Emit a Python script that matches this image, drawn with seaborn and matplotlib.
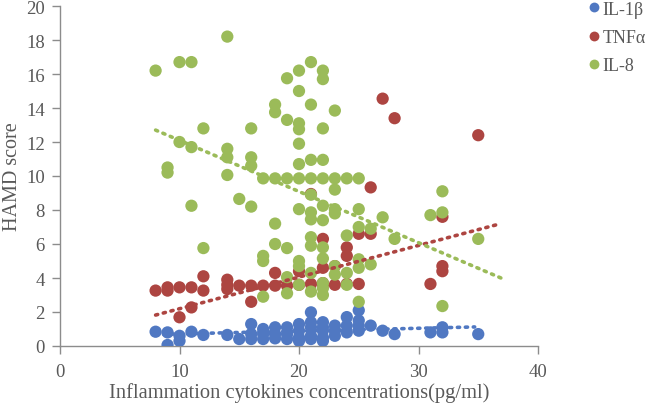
import numpy as np
import pandas as pd
import matplotlib
matplotlib.use("Agg")
import matplotlib.pyplot as plt
import seaborn as sns

# ---------------- data ----------------
series_names = ["IL-1\u03b2", "TNF\u03b1", "IL-8"]

il1b_x = [8, 9, 9, 10, 10, 11, 12, 14, 15, 16, 16, 16, 17, 17, 17, 18, 18, 18,
          19, 19, 19, 20, 20, 20, 20, 21, 21, 21, 21, 21, 22, 22, 22, 22, 22,
          23, 23, 23, 24, 24, 24, 25, 25, 25, 25, 26, 27, 28, 31, 32, 32, 35]
il1b_y = [0.84, 0.8, 0.06, 0.6, 0.3, 0.84, 0.65, 0.65, 0.41, 1.29, 0.71, 0.41,
          1.0, 0.7, 0.41, 1.1, 0.71, 0.45, 1.1, 0.7, 0.41, 1.29, 0.9, 0.5, 0.3,
          1.98, 1.4, 1.1, 0.6, 0.41, 1.4, 1.1, 0.9, 0.5, 0.3, 1.2, 0.9, 0.6,
          1.7, 1.2, 0.8, 2.1, 1.5, 1.2, 0.9, 1.2, 0.9, 0.7, 0.8, 1.1, 0.8, 0.7]

tnfa_x = [8, 9, 9, 10, 10, 11, 11, 12, 12, 14, 14, 14, 15, 16, 16, 17, 18, 18,
          19, 20, 20, 21, 21, 22, 22, 22, 22, 23, 23, 24, 24, 24, 25, 25, 26,
          26, 27, 28, 31, 32, 32, 32, 35]
tnfa_y = [3.26, 3.45, 3.26, 3.45, 1.69, 3.45, 2.27, 4.1, 3.26, 3.9, 3.6, 3.35,
          3.55, 3.55, 2.6, 3.55, 4.3, 3.55, 3.55, 3.6, 4.4, 3.65, 8.94, 3.7,
          4.6, 6.3, 3.6, 4.7, 3.6, 3.65, 5.3, 5.8, 3.65, 6.6, 6.6, 9.33, 14.55,
          13.4, 3.65, 4.4, 4.7, 7.6, 12.4]

il8_x = [8, 9, 9, 10, 10, 11, 11, 11, 12, 12, 14, 14, 14, 14, 15, 16, 16, 16,
         16, 17, 17, 17, 17, 18, 18, 18, 18, 18, 19, 19, 19, 19, 19, 19,
         20, 20, 20, 20, 20, 20, 20, 20, 20, 20, 20,
         21, 21, 21, 21, 21, 21, 21, 21, 21, 21, 21,
         22, 22, 22, 22, 22, 22, 22, 22, 22, 22, 22, 22,
         23, 23, 23, 23, 23, 23, 23, 24, 24, 24, 24, 25, 25, 25, 25, 25, 25,
         26, 26, 27, 28, 31, 32, 32, 32, 35]
il8_y = [16.2, 10.5, 10.2, 16.7, 12.0, 16.7, 11.7, 8.25, 12.8, 5.76, 18.2, 11.6,
         11.1, 10.06, 8.65, 12.8, 11.1, 10.6, 8.2, 9.86, 5.3, 5.0, 2.9, 14.2,
         13.75, 9.86, 7.2, 6.0, 15.75, 13.3, 9.86, 5.76, 4.05, 3.1,
         16.2, 15.0, 13.1, 12.75, 11.9, 10.7, 9.86, 8.05, 5.0, 4.7, 3.6,
         16.7, 14.2, 10.95, 9.86, 7.86, 7.45, 6.4, 5.9, 4.3, 3.2, 8.9,
         16.2, 15.7, 12.8, 10.95, 9.86, 8.25, 7.4, 5.8, 5.15, 3.4, 3.0, 3.7,
         13.85, 9.86, 9.2, 8.05, 7.8, 4.7, 4.2, 9.86, 6.5, 4.3, 3.6,
         9.86, 8.05, 7.0, 5.1, 4.6, 2.6, 6.9, 4.8, 7.57, 6.3, 7.7, 9.1, 7.86,
         2.35, 6.3]

# dotted linear trend lines (end points)
trend_x = {"IL-1\u03b2": [8, 34.7], "TNF\u03b1": [8, 36.9], "IL-8": [8, 36.9]}
trend_y = {"IL-1\u03b2": [0.68, 1.12], "TNF\u03b1": [1.82, 7.2], "IL-8": [12.7, 4.0]}

x_ticks = [0, 10, 20, 30, 40]
y_ticks = [0, 2, 4, 6, 8, 10, 12, 14, 16, 18, 20]
x_label = "Inflammation cytokines concentrations(pg/ml)"
y_label = "HAMD score"

colors = {"IL-1\u03b2": "#5078C2", "TNF\u03b1": "#AD4541", "IL-8": "#9BBB59"}

# ---------------- build table ----------------
df = pd.concat([
    pd.DataFrame({"x": il1b_x, "y": il1b_y, "series": series_names[0]}),
    pd.DataFrame({"x": tnfa_x, "y": tnfa_y, "series": series_names[1]}),
    pd.DataFrame({"x": il8_x, "y": il8_y, "series": series_names[2]}),
], ignore_index=True)

sns.set_theme(style="white")
plt.rcParams["font.family"] = ["Liberation Serif", "DejaVu Serif"]

fig = plt.figure(figsize=(6.52, 4.10), dpi=100)
ax = fig.add_axes([60 / 652, 63 / 410, 478 / 652, 340 / 410])

sns.scatterplot(data=df, x="x", y="y", hue="series", hue_order=series_names,
                palette=colors, s=78, edgecolor="none", linewidth=0,
                ax=ax, zorder=3)

for name in series_names:
    ax.plot(trend_x[name], trend_y[name], linestyle=(0, (0.6, 1.6)),
            dash_capstyle="round", linewidth=2.6, color=colors[name], zorder=4)

ax.set_xlim(0, 40)
ax.set_ylim(0, 20)
ax.set_xticks(x_ticks)
ax.set_yticks(y_ticks)
ax.tick_params(axis="both", labelsize=13.5, length=6, width=1,
               direction="out", left=True, bottom=True, color="#8C8C8C")
ax.tick_params(axis="x", pad=6)
ax.tick_params(axis="y", pad=5)
for lab in ax.get_xticklabels() + ax.get_yticklabels():
    lab.set_color("#595959")
for sp in ["top", "right"]:
    ax.spines[sp].set_visible(False)
for sp in ["left", "bottom"]:
    ax.spines[sp].set_color("#8C8C8C")
    ax.spines[sp].set_linewidth(1)

ax.set_xlabel(x_label, fontsize=14.8, color="#595959", labelpad=2)
ax.set_ylabel(y_label, fontsize=14.5, color="#595959", labelpad=3)

handles, labels = ax.get_legend_handles_labels()
leg = ax.legend(handles, labels, loc="upper left", bbox_to_anchor=(583 / 652, 1.0),
                bbox_transform=fig.transFigure, frameon=False, fontsize=13,
                handlelength=1.0, handletextpad=0.0, labelspacing=0.62,
                borderaxespad=0, borderpad=0.1, markerscale=0.8)
for t in leg.get_texts():
    t.set_color("#595959")

fig.savefig("out.png", dpi=100)
